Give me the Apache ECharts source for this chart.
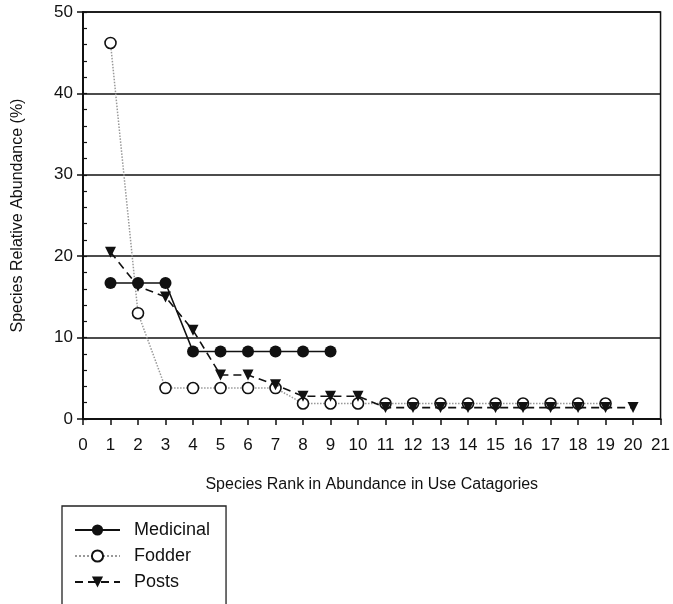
<!DOCTYPE html>
<html><head><meta charset="utf-8">
<script src="https://cdn.jsdelivr.net/npm/echarts@6/dist/echarts.min.js"></script>
<style>html,body{margin:0;padding:0;background:#fff}#c{width:673px;height:604px}</style>
</head><body><div id="c"></div>
<script>
const ranksMedicinal = [1,2,3,4,5,6,7,8,9];
const medicinal = [16.7,16.7,16.7,8.3,8.3,8.3,8.3,8.3,8.3];
const ranksFodder = [1,2,3,4,5,6,7,8,9,10,11,12,13,14,15,16,17,18,19];
const fodder = [46.2,13.0,3.8,3.8,3.8,3.8,3.8,1.9,1.9,1.9,1.9,1.9,1.9,1.9,1.9,1.9,1.9,1.9,1.9];
const ranksPosts = [1,2,3,4,5,6,7,8,9,10,11,12,13,14,15,16,17,18,19,20];
const posts = [20.5,16.3,15.0,10.9,5.4,5.4,4.2,2.8,2.8,2.8,1.4,1.4,1.4,1.4,1.4,1.4,1.4,1.4,1.4,1.4];
const xTitle = 'Species Rank in Abundance in Use Catagories';
const yTitle = 'Species Relative Abundance (%)';

const pair = (xs, ys) => xs.map((x, i) => [x, ys[i]]);
const font = '"Liberation Sans", Arial, sans-serif';
const chart = echarts.init(document.getElementById('c'));
chart.setOption({
  animation: false,
  textStyle: { fontFamily: font, color: '#000' },
  grid: { left: 83, right: 8, top: 12, bottom: 185, show: true, borderColor: '#111', borderWidth: 1.5, backgroundColor: 'transparent' },
  xAxis: {
    type: 'value', min: 0, max: 21, interval: 1,
    name: xTitle, nameLocation: 'middle', nameGap: 58,
    nameTextStyle: { fontSize: 16, color: '#111', fontFamily: font },
    axisLine: { lineStyle: { color: '#111', width: 2 } },
    axisTick: { length: 6, lineStyle: { color: '#111', width: 1.5 } },
    axisLabel: { fontSize: 17, color: '#111', margin: 18, fontFamily: font },
    splitLine: { show: false }
  },
  yAxis: [{
    type: 'value', min: 0, max: 50, interval: 10,
    name: yTitle, nameLocation: 'middle', nameGap: 57,
    nameTextStyle: { fontSize: 16, color: '#111', fontFamily: font },
    axisLine: { show: true, lineStyle: { color: '#111', width: 2 } },
    axisTick: { show: true, length: 6, lineStyle: { color: '#111', width: 1.5 } },
    axisLabel: { fontSize: 17, color: '#111', margin: 10, fontFamily: font },
    splitLine: { show: true, lineStyle: { color: '#111', width: 1.5 } }
  }, {
    type: 'value', min: 0, max: 50, interval: 2, position: 'left', offset: 0,
    axisLine: { show: false },
    axisTick: { show: true, inside: true, length: 4, lineStyle: { color: '#111', width: 1.2 } },
    axisLabel: { show: false },
    splitLine: { show: false }
  }],
  legend: {
    orient: 'vertical', left: 62, top: 506, height: 200,
    padding: [15, 16, 30, 12], itemGap: 8,
    itemWidth: 45, itemHeight: 14,
    borderColor: '#222', borderWidth: 1.3,
    textStyle: { fontSize: 18, lineHeight: 14, color: '#111', fontFamily: font, padding: [0, 0, 0, 9] },
    data: ['Medicinal', 'Fodder', 'Posts']
  },
  series: [{
    name: 'Fodder', type: 'line', data: pair(ranksFodder, fodder), z: 2,
    symbol: 'circle', symbolSize: 11,
    lineStyle: { color: '#999', width: 1.5, type: 'dotted' },
    itemStyle: { color: '#fff', borderColor: '#111', borderWidth: 1.6 }
  }, {
    name: 'Posts', type: 'line', data: pair(ranksPosts, posts), z: 3,
    symbol: 'triangle', symbolRotate: 180, symbolSize: 11,
    lineStyle: { color: '#111', width: 1.6, type: [8, 5] },
    itemStyle: { color: '#111' }
  }, {
    name: 'Medicinal', type: 'line', data: pair(ranksMedicinal, medicinal), z: 4,
    symbol: 'circle', symbolSize: 12,
    lineStyle: { color: '#111', width: 1.6 },
    itemStyle: { color: '#111' }
  }]
});
</script></body></html>
